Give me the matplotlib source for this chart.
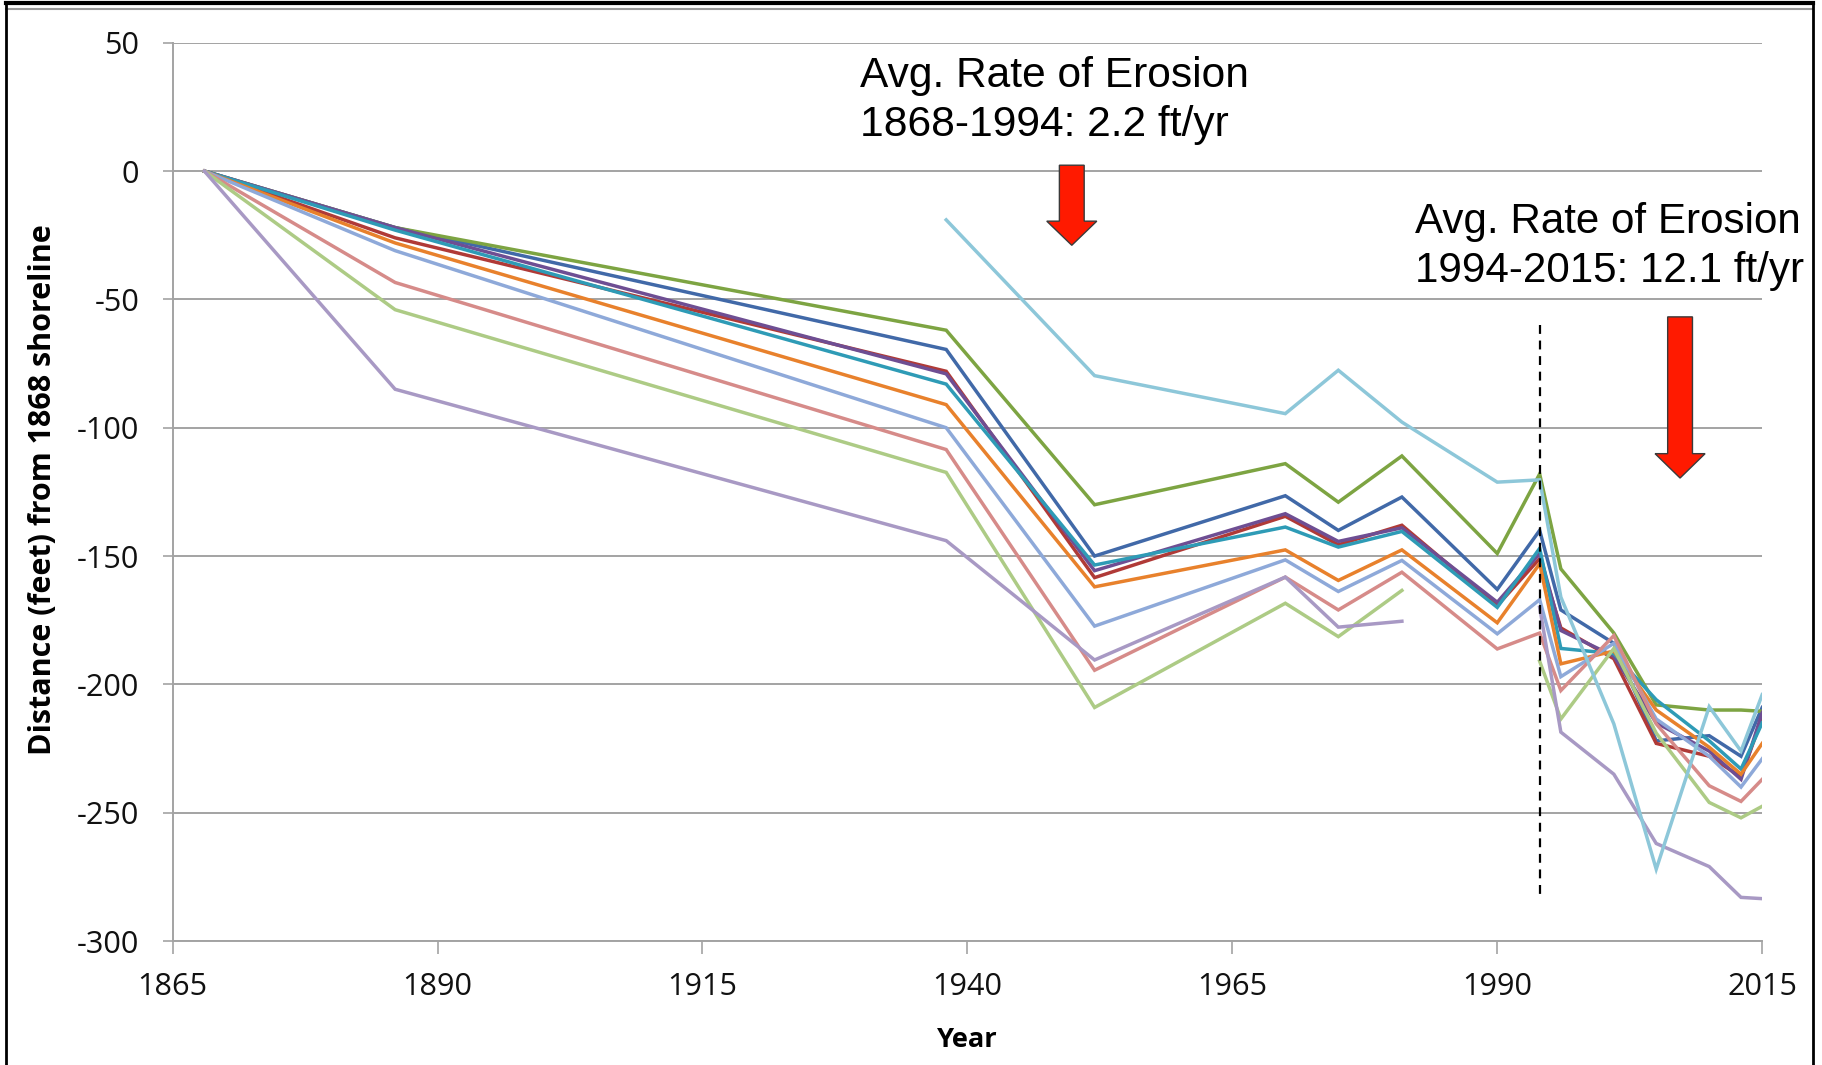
import numpy as np
import matplotlib
matplotlib.use("Agg")
import matplotlib.pyplot as plt
from matplotlib.patches import Polygon
from matplotlib.lines import Line2D

# ---------------- data ----------------
years = [1868, 1886, 1938, 1952, 1970, 1975, 1981, 1990, 1994, 1996, 2001, 2005, 2010, 2013, 2015]
nan = np.nan
s_blue = [0, -22, -69.5, -150, -126.5, -140, -127, -163, -140, -171, -184, -222, -220, -228, -209]
s_red = [0, -26, -78, -158.4, -134.5, -145.6, -138, -169.3, -151, -178, -190, -223, -228, -236, -213]
s_green = [0, -22, -62, -130, -114, -129, -111, -149, -118, -155, -180, -208, -210, -210, -210.5]
s_purple = [0, -22, -79, -155.7, -133.5, -144.3, -139, -168, -149, -179, -189, -215, -226, -237, -211]
s_teal = [0, -23, -83, -153.5, -138.7, -146.5, -140.4, -170, -147, -186, -188, -206, -222, -233, -215]
s_orange = [0, -28, -91, -162, -147.6, -159.5, -147.6, -176, -153, -192, -187, -210, -224.5, -235, -223]
s_ltblue = [0, -31, -100, -177.3, -151.5, -163.8, -151.7, -180.3, -167, -197, -184, -213.5, -228, -240, -229]
s_pink = [0, -43.4, -108.5, -194.5, -158.2, -171, -156.3, -186.2, -180, -202.4, -181, -215.4, -239.5, -245.6, -237]
s_ltgreen = [0, -54, -117.4, -209, -168.4, -181.4, -163.4, nan, -191, -213.5, -186, -219, -246, -252, -247.5]
s_ltpurple = [0, -85, -144, -190.5, -158.2, -177.7, -175.4, nan, -170, -218.6, -235, -262, -271, -283, -283.5]
s_ltcyan = [nan, nan, -19, -79.7, -94.5, -77.6, -97.8, -121.2, -120.3, -166, -215.4, -272, -208.7, -226, -204]

series = [s_blue, s_red, s_green, s_purple, s_teal, s_orange,
          s_ltblue, s_pink, s_ltgreen, s_ltpurple, s_ltcyan]
colors = ['#4169A8', '#B03A37', '#7DA442', '#6E4E93', '#2E9BB6', '#E8812C',
          '#8EA9D9', '#D68B89', '#ADCB85', '#A899C4', '#8DC7D9']

x_ticks = [1865, 1890, 1915, 1940, 1965, 1990, 2015]
y_ticks = [-300, -250, -200, -150, -100, -50, 0, 50]

divider_year = 1994
divider_range = (-60, -283)

note1 = "Avg. Rate of Erosion\n1868-1994: 2.2 ft/yr"
note2 = "Avg. Rate of Erosion\n1994-2015: 12.1 ft/yr"
xlabel = "Year"
ylabel = "Distance (feet) from 1868 shoreline"

# ---------------- figure ----------------
W, H = 1822, 1065
fig = plt.figure(figsize=(W / 100, H / 100), dpi=100)
fig.patch.set_facecolor('white')

def fx(px):
    return px / W

def fy(py):
    return 1 - py / H

ax = fig.add_axes([fx(172.6), fy(941), fx(1762.2) - fx(172.6), fy(171 - 2.564 * 50) - fy(941)])
ax.set_xlim(1865, 2015)
ax.set_ylim(-300, 50)

grid_c = '#A3A3A3'
for yv in y_ticks:
    ax.axhline(yv, color=grid_c, lw=1.4, zorder=1)

for s, c in zip(series, colors):
    ax.plot(years, s, color=c, lw=2.5, solid_joinstyle='miter', zorder=3)

ax.plot([divider_year, divider_year], divider_range, color='black', lw=1.6,
        linestyle=(0, (4, 3)), zorder=4)

# red arrows
def red_arrow(xc, y_top, y_base, y_tip, shaft_hw=1.17, head_hw=2.36):
    pts = [(xc - shaft_hw, y_top), (xc + shaft_hw, y_top), (xc + shaft_hw, y_base),
           (xc + head_hw, y_base), (xc, y_tip), (xc - head_hw, y_base), (xc - shaft_hw, y_base)]
    ax.add_patch(Polygon(pts, closed=True, facecolor='#FF1A00', edgecolor='#3A3A3A',
                         lw=1.0, zorder=5, clip_on=False))

red_arrow(1949.85, 2.3, -19.5, -28.9)
red_arrow(2007.25, -56.8, -110.1, -119.6)

for sp in ['top', 'right']:
    ax.spines[sp].set_visible(False)
for sp in ['left', 'bottom']:
    ax.spines[sp].set_color(grid_c)
    ax.spines[sp].set_linewidth(1.4)

ax.set_xticks(x_ticks)
ax.set_yticks(y_ticks)
ax.set_xticklabels([str(v) for v in x_ticks])
ax.set_yticklabels([str(v) for v in y_ticks])
ax.tick_params(axis='x', direction='out', length=9, width=1.2, color=grid_c, pad=13)
ax.tick_params(axis='y', direction='out', length=7, width=1.2, color=grid_c, pad=17)

tick_font = 'Open Sans'
for lab in ax.get_xticklabels() + ax.get_yticklabels():
    lab.set_fontfamily(tick_font)
    lab.set_fontsize(22)
    lab.set_color('#111111')

fig.canvas.draw()
renderer = fig.canvas.get_renderer()

# fit tick font to target width
lab0 = ax.get_xticklabels()[0]
wb = lab0.get_window_extent(renderer).width
tsize = 22 * 70 / wb
for lab in ax.get_xticklabels() + ax.get_yticklabels():
    lab.set_fontsize(tsize)

# axis labels
t_x = fig.text(fx(967), fy(1040), xlabel, ha='center', va='center', fontsize=24,
               fontweight='bold', family='Open Sans')
t_y = fig.text(fx(43), fy(490), ylabel, ha='center', va='center', rotation=90,
               fontsize=24, fontweight='bold', family='Open Sans')

# annotations
t_n1 = fig.text(fx(860), fy(56), note1, ha='left', va='top', fontsize=30,
                family='Liberation Sans', linespacing=1.3)
t_n2 = fig.text(fx(1415), fy(202), note2, ha='left', va='top', fontsize=30,
                family='Liberation Sans', linespacing=1.3)

fig.canvas.draw()
def fit(t, target, use_height=False):
    bb = t.get_window_extent(renderer)
    cur = bb.height if use_height else bb.width
    t.set_fontsize(t.get_fontsize() * target / cur)

fit(t_x, 61)
fit(t_y, 532, use_height=True)
fit(t_n1, 389)
fit(t_n2, 389)

# outer frame
frame_kw = dict(transform=fig.transFigure, clip_on=False)
fig.add_artist(Line2D([fx(6), fx(1813)], [fy(3), fy(3)], color='black', lw=3.0, **frame_kw))
fig.add_artist(Line2D([fx(6), fx(1813)], [fy(9), fy(9)], color='#9A9A9A', lw=1.5, **frame_kw))
fig.add_artist(Line2D([fx(6), fx(6)], [fy(2), fy(1065)], color='black', lw=2.0, **frame_kw))
fig.add_artist(Line2D([fx(1813), fx(1813)], [fy(2), fy(1065)], color='black', lw=2.0, **frame_kw))

fig.savefig('out.png', dpi=100, facecolor='white')
